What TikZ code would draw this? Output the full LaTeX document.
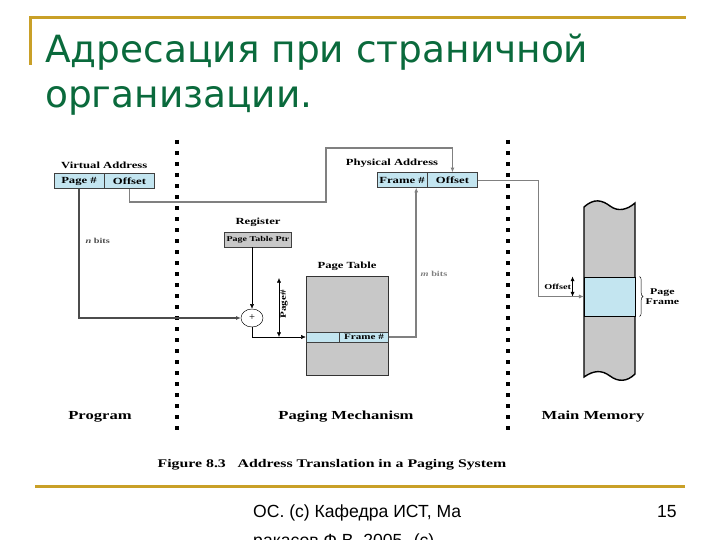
\documentclass[tikz,border=0pt]{standalone}
\usepackage{fontspec}
\setmainfont{Liberation Serif}
\newfontfamily\titlefont{DejaVu Sans}
\newfontfamily\footfont{Liberation Sans}
\newfontfamily\figfont[FakeStretch=1.35]{Liberation Serif}
\usepackage{xcolor}
\usetikzlibrary{arrows.meta, positioning, shapes.geometric, decorations.pathreplacing, calc}

\definecolor{titlegreen}{HTML}{0A6A3C}
\definecolor{rulegold}{HTML}{C9A028}
\definecolor{cellblue}{HTML}{C3E5F0}
\definecolor{boxgray}{HTML}{C8C8C8}
\definecolor{linegray}{HTML}{808080}

\begin{document}
\begin{tikzpicture}[
    x=0.03cm, y=-0.03cm,
    cell/.style    = {draw=black!75, fill=cellblue, minimum width=1.5cm,
                      minimum height=0.45cm, inner sep=0pt,
                      font=\figfont\bfseries\fontsize{8}{9}\selectfont},
    lbl/.style     = {inner sep=1pt, font=\figfont\bfseries\fontsize{8}{9}\selectfont},
    tiny/.style    = {inner sep=1pt, font=\figfont\bfseries\fontsize{6.5}{7.5}\selectfont},
    part/.style    = {inner sep=1pt, font=\figfont\bfseries\fontsize{10.5}{12}\selectfont},
    arrow/.style   = {-{Latex[length=4pt, width=3.5pt]}},
    dblarrow/.style= {{Latex[length=4pt, width=3.5pt]}-{Latex[length=4pt, width=3.5pt]}},
    sepline/.style = {line width=0.12cm, dash pattern=on 0.12cm off 0.21cm},
    goldrule/.style= {rulegold, line width=0.09cm},
  ]
  \useasboundingbox (0,0) rectangle (720,540);

  % slide frame and title
  \draw[goldrule] (30,65) -- (30,18) -- (686,18);
  \draw[goldrule] (35,486) -- (685,486);
  \node[anchor=base west, inner sep=0pt, text=titlegreen,
        font=\titlefont\fontsize{32}{40}\selectfont] (title1) at (45,63)
        {Адресация при страничной};
  \node[anchor=base west, inner sep=0pt, text=titlegreen,
        font=\titlefont\fontsize{32}{40}\selectfont] (title2) at (45,108)
        {организации.};

  % separators
  \draw[sepline] (177,140) -- (177,432);
  \draw[sepline] (508,140) -- (508,432);

  % virtual address
  \node[cell] (vpage) at (79,181) {Page \#};
  \node[cell, right=0pt of vpage] (voff) {Offset};
  \node[lbl, above=3pt of vpage.north east] (vlabel) {Virtual Address};

  % register
  \node[cell, fill=boxgray, minimum width=2.0cm,
        font=\figfont\bfseries\fontsize{6.3}{7}\selectfont] (ptr) at (258,239.5) {Page Table Ptr};
  \node[lbl, above=3pt of ptr] (reglabel) {Register};

  % adder
  \node[ellipse, draw, minimum width=0.66cm, minimum height=0.54cm, inner sep=0pt,
        font=\fontsize{9}{9}\selectfont] (adder) at (252,318) {+};

  % page table
  \node[draw=black!80, thick, fill=boxgray, minimum width=2.46cm, minimum height=2.97cm,
        inner sep=0pt] (ptable) at (347,325.5) {};
  \node[lbl, above=3pt of ptable] (ptlabel) {Page Table};
  \node[cell, minimum width=0.99cm, minimum height=0.3cm] (tentry) at (322.5,337) {};
  \node[cell, minimum width=1.47cm, minimum height=0.3cm,
        font=\figfont\bfseries\fontsize{7}{8}\selectfont, right=0pt of tentry] (tframe) {Frame \#};

  % physical address
  \node[cell] (pframe) at (402,180) {Frame \#};
  \node[cell, right=0pt of pframe] (poff) {Offset};
  \node[lbl, above=3pt of pframe.north, xshift=-0.3cm] (plabel) {Physical Address};

  % main memory
  \draw[fill=boxgray, line width=1.2pt]
        (584,207) .. controls (594,198) and (602,200) .. (610,206)
        .. controls (618,212) and (627,210) .. (635,203) -- (635,374)
        .. controls (627,382) and (618,382) .. (610,376)
        .. controls (602,370) and (594,370) .. (584,377) -- cycle;
  \node[draw, line width=0.8pt, fill=cellblue, minimum width=1.53cm, minimum height=1.17cm,
        inner sep=0pt] (pageframe) at (609.5,296.5) {};
  \coordinate (offtop) at ($(pageframe.north west)+(-11,0)$);
  \draw[dblarrow] (offtop) -- (offtop |- pageframe.west)
        node[midway, left=0pt, tiny] {Offset};
  \draw[decorate, decoration={brace, amplitude=3pt}]
        ($(pageframe.north east)+(4,0)$) -- ($(pageframe.south east)+(4,0)$)
        node[midway, right=4pt, lbl, align=center,
             font=\figfont\bfseries\fontsize{7.5}{8.5}\selectfont] (pflabel) {Page\\Frame};

  % connectors
  \coordinate (vbend) at (326,148);
  \draw[linegray, line width=1.6pt, arrow] (voff.south) -- ++(0,13) -| (vbend) -| (poff.north);
  \draw[black!70, line width=1.1pt, arrow] (vpage.south) |- (adder.west)
        node[pos=0.2, right=4pt, tiny] {{\itshape n} bits};
  \draw[arrow] (adder.north |- ptr.south) -- (adder.north);
  \draw[arrow] (adder.south) |- (tentry.west);
  \coordinate (pgtop) at (279,278);
  \draw[dblarrow] (pgtop) -- (pgtop |- tentry.west)
        node[pos=0.45, anchor=north, rotate=90, tiny, font=\figfont\bfseries\fontsize{7}{8}\selectfont] {Page\#};
  \draw[linegray, line width=1.6pt, arrow] (tframe.east) -| ([xshift=-0.33cm]pframe.south east)
        node[pos=0.71, right=2pt, tiny] {{\itshape m} bits};
  \draw[linegray, arrow] (poff.east) -| ($(pageframe.west)+(-45,0)$) -- (pageframe.west);

  % region labels and caption
  \node[part] (prog) at (100,417) {Program};
  \node[part] (mech) at (346,417) {Paging Mechanism};
  \node[part] (mem)  at (593,417) {Main Memory};
  \node[part, font=\figfont\bfseries\fontsize{10}{12}\selectfont] (caption) at (332,465)
        {Figure 8.3\quad Address Translation in a Paging System};

  % footer
  \node[anchor=base west, inner sep=0pt, font=\footfont\fontsize{15}{17}\selectfont] (foot1)
        at (253,517) {ОС. (c) Кафедра ИСТ, Ма};
  \node[anchor=base west, inner sep=0pt, font=\footfont\fontsize{15}{17}\selectfont] (foot2)
        at (253,546) {ракасов Ф.В. 2005. (c)};
  \node[anchor=base east, inner sep=0pt, font=\footfont\fontsize{15}{17}\selectfont] (pageno)
        at (677,517) {15};
\end{tikzpicture}
\end{document}
